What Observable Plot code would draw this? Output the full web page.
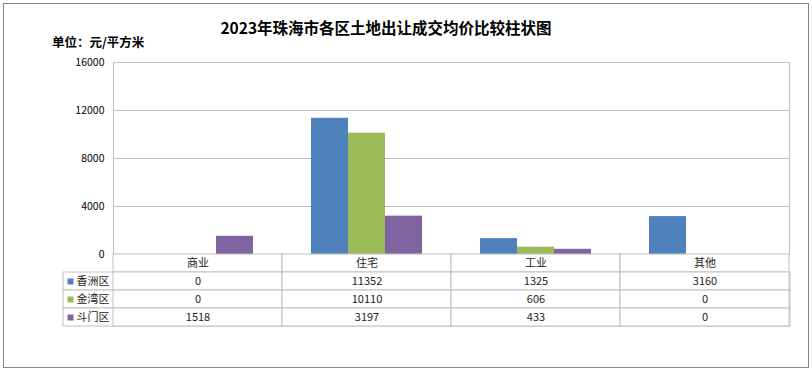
<!DOCTYPE html>
<html>
<head>
<meta charset="utf-8">
<script src="https://cdn.jsdelivr.net/npm/d3@7"></script>
<script src="https://cdn.jsdelivr.net/npm/@observablehq/plot@0.6"></script>
<style>
  body { margin: 0; background: #fff; }
  #wrap { position: relative; width: 812px; height: 371px; background: #fff; overflow: hidden;
          font-family: "Noto Sans CJK SC", "Noto Sans", sans-serif; }
  #wrap svg { position: absolute; left: 0; background: transparent; }
  #title { position: absolute; left: 0; width: 772px; top: 16px; text-align: center;
           font-size: 15.5px; font-weight: bold; color: #000; line-height: 22px; }
  #unit { position: absolute; left: 52px; top: 33px; font-size: 12.5px; font-weight: bold; color: #000; line-height: 18px; }
  #border { position: absolute; left: 3px; top: 3px; width: 804px; height: 363px; border: 1px solid #868686; pointer-events: none; }
</style>
</head>
<body>
<div id="wrap">
  <div id="title"></div>
  <div id="unit"></div>
  <div id="border"></div>
</div>
<script>
const titleText = "2023年珠海市各区土地出让成交均价比较柱状图";
const unitText = "单位：元/平方米";
const categories = ["商业", "住宅", "工业", "其他"];
const series = ["香洲区", "金湾区", "斗门区"];
const xiangzhou = [0, 11352, 1325, 3160];
const jinwan = [0, 10110, 606, 0];
const doumen = [1518, 3197, 433, 0];
const yTicks = [0, 4000, 8000, 12000, 16000];
const colors = ["#4F81BD", "#9BBB59", "#8064A2"];

const seriesValues = [xiangzhou, jinwan, doumen];
const data = [];
series.forEach((s, si) => categories.forEach((c, ci) => data.push({cat: c, series: s, value: seriesValues[si][ci]})));

const gridColor = "#BFBFBF";
const font = '"Noto Sans CJK SC", "Noto Sans", sans-serif';

const wrap = document.getElementById("wrap");
document.getElementById("title").textContent = titleText;
document.getElementById("unit").textContent = unitText;

const chart = Plot.plot({
  width: 812,
  height: 371,
  marginTop: 62,
  marginBottom: 117,
  marginLeft: 112,
  marginRight: 22,
  style: {fontFamily: font, fontSize: "10.5px", color: "#000", background: "transparent"},
  fx: {domain: categories, paddingInner: 0, paddingOuter: 0, axis: null},
  x: {domain: series, paddingInner: 0, paddingOuter: 0.75, axis: null},
  y: {domain: [0, 16000], axis: null},
  color: {domain: series, range: colors},
  marks: [
    Plot.ruleY(yTicks, {stroke: gridColor, strokeWidth: 1}),
    Plot.frame({anchor: "left", facetAnchor: "left", stroke: gridColor}),
    Plot.frame({anchor: "right", facetAnchor: "right", stroke: gridColor}),
    Plot.barY(data, {fx: "cat", x: "series", y: "value", fill: "series"}),
    Plot.axisY({ticks: yTicks, tickSize: 0, tickPadding: 9, fontSize: 10.5, tickFormat: d => String(d), label: null})
  ]
});
chart.style.top = "0px";
wrap.insertBefore(chart, document.getElementById("border"));

const rows = ["", ...series];
const tableData = [];
categories.forEach(c => tableData.push({cat: c, row: "", text: c}));
series.forEach((s, si) => categories.forEach((c, ci) => tableData.push({cat: c, row: s, text: String(seriesValues[si][ci])})));

const table = Plot.plot({
  width: 812,
  height: 74,
  marginTop: 1,
  marginBottom: 1,
  marginLeft: 63,
  marginRight: 22,
  style: {fontFamily: font, fontSize: "11px", color: "#000", background: "transparent"},
  x: {domain: categories, range: [112, 790], padding: 0, axis: null},
  y: {domain: rows, padding: 0, axis: null},
  color: {domain: series, range: colors},
  marks: [
    Plot.cell(series, {y: d => d, fill: "white", stroke: gridColor}),
    Plot.cell(tableData, {x: "cat", y: "row", fill: "white", stroke: gridColor}),
    Plot.text(tableData, {x: "cat", y: "row", text: "text", fill: "#222", fontSize: 11}),
    Plot.dot(series, {y: d => d, frameAnchor: "left", dx: 7, symbol: "square", r: 3.4, fill: d => d}),
    Plot.text(series, {y: d => d, frameAnchor: "left", dx: 13, textAnchor: "start", text: d => d, fill: "#222", fontSize: 11})
  ]
});
table.style.top = "253px";
wrap.insertBefore(table, document.getElementById("border"));
</script>
</body>
</html>
